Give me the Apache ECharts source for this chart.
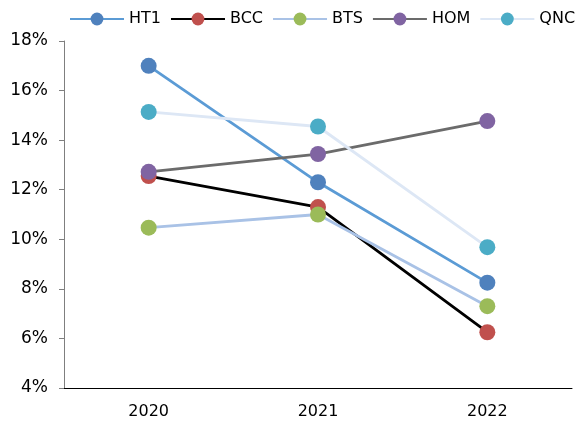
<!DOCTYPE html>
<html>
<head>
<meta charset="utf-8">
<script src="https://cdn.jsdelivr.net/npm/echarts@6/dist/echarts.min.js"></script>
<style>
  html, body { margin: 0; padding: 0; background: #fff; }
  #chart { width: 584px; height: 423px; }
</style>
</head>
<body>
<div id="chart"></div>
<script>
var years = ['2020', '2021', '2022'];
var ht1 = [17.0, 12.3, 8.25];
var bcc = [12.55, 11.3, 6.25];
var bts = [10.47, 11.0, 7.3];
var hom = [12.72, 13.44, 14.77];
var qnc = [15.14, 14.55, 9.68];

var names = ['HT1', 'BCC', 'BTS', 'HOM', 'QNC'];
var lineColors = ['#5b9bd5', '#000000', '#a9c2e6', '#6b6b6b', '#dde7f5'];
var dotColors = ['#4f81bd', '#c0504d', '#9bbb59', '#8064a2', '#4bacc6'];
var values = [ht1, bcc, bts, hom, qnc];

var font = '"DejaVu Sans", Verdana, sans-serif';

var series = names.map(function (n, i) {
  return {
    name: n,
    type: 'line',
    data: values[i],
    symbol: 'circle',
    symbolSize: 16,
    lineStyle: { color: lineColors[i], width: 2.8 },
    itemStyle: { color: dotColors[i] },
    emphasis: { disabled: true }
  };
});

var myChart = echarts.init(document.getElementById('chart'));
myChart.setOption({
  animation: false,
  legend: {
    top: 6,
    left: 64,
    width: 530,
    itemWidth: 54,
    itemHeight: 16,
    itemGap: 9,
    textStyle: { fontFamily: font, fontSize: 16, color: '#000' },
    data: names
  },
  grid: { left: 64, right: 12, top: 41, bottom: 35 },
  xAxis: {
    type: 'category',
    data: years,
    boundaryGap: true,
    axisLine: { lineStyle: { color: '#000', width: 1 } },
    axisTick: { inside: true, length: 5, lineStyle: { color: '#000' } },
    axisLabel: { fontFamily: font, fontSize: 16, color: '#000', margin: 16 }
  },
  yAxis: {
    type: 'value',
    min: 4,
    max: 18,
    interval: 2,
    splitLine: { show: false },
    axisLine: { show: true, lineStyle: { color: '#7f7f7f', width: 1 } },
    axisTick: { show: true, length: 5, lineStyle: { color: '#7f7f7f' } },
    axisLabel: { fontFamily: font, fontSize: 17, color: '#000', margin: 16, formatter: '{value}%' }
  },
  series: series
});
</script>
</body>
</html>
